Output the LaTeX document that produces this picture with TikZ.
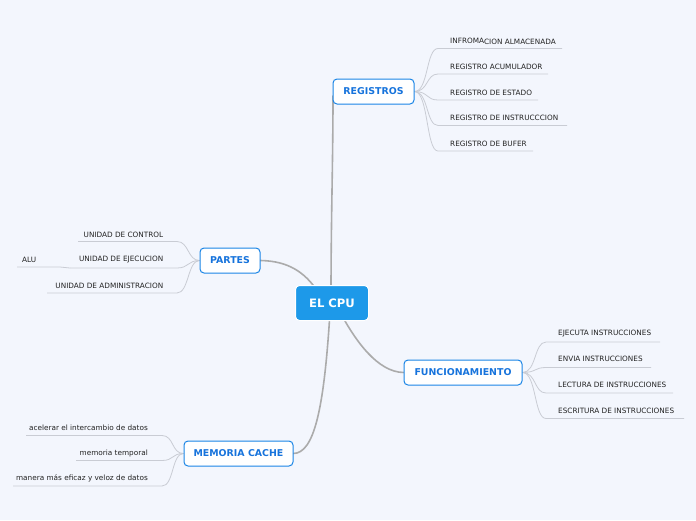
\documentclass[tikz,border=0pt]{standalone}
\usepackage{fontspec}
\setmainfont{DejaVu Sans}
\definecolor{bgc}{HTML}{F3F6FD}
\definecolor{cpufill}{HTML}{1D99E9}
\definecolor{mainborder}{HTML}{1A85E6}
\definecolor{maintext}{HTML}{1673DC}
\definecolor{mainline}{HTML}{ABABAB}
\definecolor{leafline}{HTML}{C9CCD4}
\definecolor{leaftext}{HTML}{222222}
\pgfdeclarelayer{bglayer}
\pgfdeclarelayer{lines}
\pgfsetlayers{bglayer,lines,main}
\tikzset{
  cpubox/.style={rounded corners=4pt, fill=cpufill, draw=white, line width=1pt, minimum width=73pt, minimum height=35pt, text=white, font=\fontsize{11.6}{12}\selectfont\bfseries},
  mainbox/.style={rounded corners=4pt, fill=white, draw=mainborder, line width=1pt, minimum height=25pt, text=maintext, font=\fontsize{9.4}{10}\selectfont\bfseries, inner xsep=2pt},
  leaf/.style={inner sep=0pt, text=leaftext, font=\fontsize{7.3}{8}\selectfont},
  mline/.style={draw=mainline, line width=1.6pt, line cap=round},
  lline/.style={draw=leafline, line width=0.8pt},
}
\begin{document}
\begin{tikzpicture}[x=1pt,y=-1pt]
\begin{pgfonlayer}{bglayer}
\fill[bgc] (0,0) rectangle (696,520);
\end{pgfonlayer}
\useasboundingbox (0,0) rectangle (696,520);

% main nodes
\node[cpubox] (cpu) at (332,303) {EL CPU};
\node[mainbox, minimum width=81pt] (reg) at (373.5,91.5) {REGISTROS};
\node[mainbox, minimum width=60pt] (par) at (230,260.5) {PARTES};
\node[mainbox, minimum width=118pt] (fun) at (463,372.5) {FUNCIONAMIENTO};
\node[mainbox, minimum width=109pt] (mem) at (238.5,453.5) {MEMORIA CACHE};

% main connectors
\coordinate (cr) at (331,295);
\coordinate (regin) at (333,96);
\coordinate (cp) at (318,292);
\coordinate (cf) at (340,312);
\coordinate (cm) at (330,312);
\begin{pgfonlayer}{lines}
\draw[mline] (cr) .. controls (331,220) and (333,160) .. (regin);
\draw[mline] (cp) .. controls (305,272) and (288,261) .. (par.east);
\draw[mline] (cf) .. controls (356,342) and (378,372) .. (fun.west);
\draw[mline] (cm) .. controls (324,410) and (314,453) .. (mem.east);
\end{pgfonlayer}

% REGISTROS leaves
\node[leaf, anchor=west] (r1) at (450,41) {INFROMA\raisebox{-1.2pt}{CION ALMACENADA}};
\node[leaf, anchor=west] (r2) at (450,66.5) {REGISTRO ACUMULADOR};
\node[leaf, anchor=west] (r3) at (450,92.5) {REGISTRO DE ESTADO};
\node[leaf, anchor=west] (r4) at (450,117.5) {REGISTRO DE INSTRUCCCION};
\node[leaf, anchor=west] (r5) at (450,143.5) {REGISTRO DE BUFER};
\coordinate (r1s) at (438,48.5);  \coordinate (r1e) at (562,48.5);
\coordinate (r2s) at (438,74);    \coordinate (r2e) at (548,74);
\coordinate (r3s) at (438,100);   \coordinate (r3e) at (538,100);
\coordinate (r4s) at (438,125.5); \coordinate (r4e) at (567,125.5);
\coordinate (r5s) at (438,151);   \coordinate (r5e) at (533,151);
\begin{pgfonlayer}{lines}
\foreach \i in {1,...,5}{
  \draw[lline] (reg.east) .. controls +(14,0) and +(-12,0) .. (r\i s) -- (r\i e);
}
\end{pgfonlayer}

% PARTES leaves
\node[leaf, anchor=east] (p1) at (163.5,234.5) {UNIDAD DE CONTROL};
\node[leaf, anchor=east] (p2) at (163.5,260) {UNIDAD DE EJECUCION};
\node[leaf, anchor=east] (p3) at (163.5,285.5) {UNIDAD DE ADMINISTRACION};
\node[leaf, anchor=west] (alu) at (22,259.5) {ALU};
\coordinate (p1s) at (177,241.5); \coordinate (p1e) at (78,241.5);
\coordinate (p2s) at (177,268);   \coordinate (p2e) at (70,268);
\coordinate (p3s) at (177,293);   \coordinate (p3e) at (47,293);
\coordinate (alus) at (60,267);   \coordinate (alue) at (17,267);
\begin{pgfonlayer}{lines}
\foreach \i in {1,2,3}{
  \draw[lline] (par.west) .. controls +(-12,0) and +(12,0) .. (p\i s) -- (p\i e);
}
\draw[lline] (p2e) .. controls +(-5,0) and +(5,0) .. (alus) -- (alue);
\end{pgfonlayer}

% FUNCIONAMIENTO leaves
\node[leaf, anchor=west] (f1) at (558,333.5) {EJECUTA INSTRUCCIONES};
\node[leaf, anchor=west] (f2) at (558,359) {ENVIA INSTRUCCIONES};
\node[leaf, anchor=west] (f3) at (558,385) {LECTURA DE INSTRUCCIONES};
\node[leaf, anchor=west] (f4) at (558,410.5) {ESCRITURA DE INSTRUCCIONES};
\coordinate (f1s) at (546,342);   \coordinate (f1e) at (660,342);
\coordinate (f2s) at (546,367.5); \coordinate (f2e) at (651,367.5);
\coordinate (f3s) at (546,393);   \coordinate (f3e) at (673,393);
\coordinate (f4s) at (546,418.5); \coordinate (f4e) at (684,418.5);
\begin{pgfonlayer}{lines}
\foreach \i in {1,...,4}{
  \draw[lline] (fun.east) .. controls +(14,0) and +(-12,0) .. (f\i s) -- (f\i e);
}
\end{pgfonlayer}

% MEMORIA CACHE leaves
\node[leaf, anchor=east] (m1) at (148,427.5) {acelerar el intercambio de datos};
\node[leaf, anchor=east] (m2) at (148,453) {memoria temporal};
\node[leaf, anchor=east] (m3) at (148,478.5) {manera más eficaz y veloz de datos};
\coordinate (m1s) at (162,435.5); \coordinate (m1e) at (26,435.5);
\coordinate (m2s) at (162,460.5); \coordinate (m2e) at (76,460.5);
\coordinate (m3s) at (162,486);   \coordinate (m3e) at (13,486);
\begin{pgfonlayer}{lines}
\foreach \i in {1,2,3}{
  \draw[lline] (mem.west) .. controls +(-12,0) and +(12,0) .. (m\i s) -- (m\i e);
}
\end{pgfonlayer}
\end{tikzpicture}
\end{document}
